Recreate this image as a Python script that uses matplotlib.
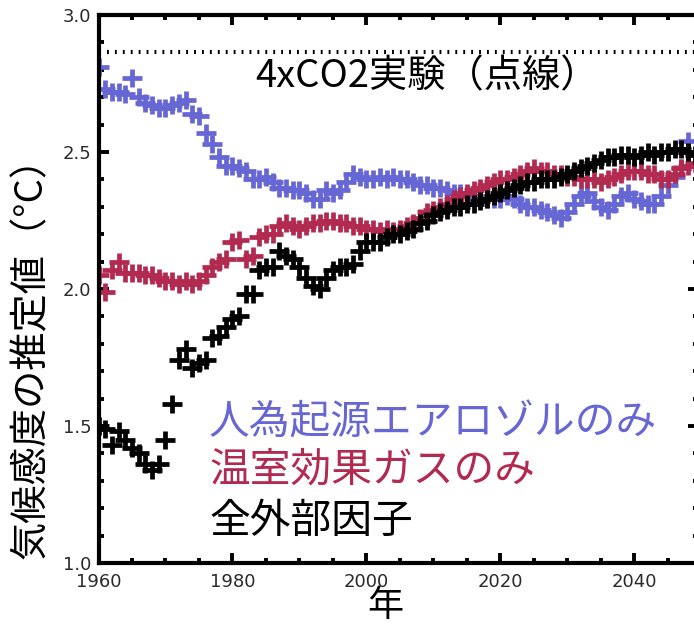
import numpy as np
import matplotlib
matplotlib.use("Agg")
import matplotlib.pyplot as plt
from matplotlib.ticker import MultipleLocator

plt.rcParams['font.family'] = ['DejaVu Sans']
jp = ['Noto Sans CJK JP', 'DejaVu Sans']

# 人為起源エアロゾルのみ (1960-2048)
aerosol_years = np.arange(1960, 2049)
aerosol = [2.81, 2.73, 2.72, 2.72, 2.71, 2.77, 2.70, 2.68, 2.67, 2.66,
           2.66, 2.67, 2.68, 2.69, 2.64, 2.63, 2.57, 2.53, 2.48, 2.45,
           2.45, 2.44, 2.43, 2.40, 2.40, 2.41, 2.39, 2.37, 2.37, 2.36,
           2.36, 2.35, 2.33, 2.33, 2.36, 2.35, 2.36, 2.39, 2.42, 2.41,
           2.40, 2.40, 2.41, 2.40, 2.41, 2.40, 2.40, 2.39, 2.38, 2.38,
           2.37, 2.37, 2.36, 2.35, 2.35, 2.34, 2.34, 2.33, 2.33, 2.33,
           2.33, 2.34, 2.33, 2.31, 2.30, 2.30, 2.29, 2.28, 2.27, 2.26,
           2.28, 2.31, 2.34, 2.35, 2.32, 2.30, 2.29, 2.31, 2.34, 2.35,
           2.33, 2.32, 2.31, 2.31, 2.34, 2.38, 2.41, 2.44, 2.54]

# 温室効果ガスのみ (1960-2049)
ghg_years = np.arange(1960, 2050)
ghg = [2.05, 1.99, 2.07, 2.10, 2.06, 2.06, 2.06, 2.05, 2.05, 2.04,
       2.03, 2.03, 2.02, 2.03, 2.02, 2.03, 2.05, 2.08, 2.10, 2.11,
       2.17, 2.18, 2.11, 2.12, 2.19, 2.20, 2.20, 2.23, 2.24, 2.23,
       2.22, 2.23, 2.24, 2.24, 2.25, 2.25, 2.24, 2.24, 2.23, 2.23,
       2.22, 2.22, 2.21, 2.22, 2.21, 2.22, 2.23, 2.24, 2.26, 2.28,
       2.29, 2.30, 2.31, 2.33, 2.34, 2.35, 2.36, 2.37, 2.38, 2.39,
       2.40, 2.40, 2.41, 2.42, 2.43, 2.44, 2.43, 2.43, 2.42, 2.42,
       2.41, 2.41, 2.40, 2.40, 2.40, 2.39, 2.40, 2.41, 2.42, 2.43,
       2.43, 2.43, 2.42, 2.42, 2.40, 2.40, 2.42, 2.44, 2.45, 2.46]

# 全外部因子 (1960-2049)
all_years = np.arange(1960, 2050)
all_forcing = [1.50, 1.49, 1.43, 1.48, 1.45, 1.42, 1.40, 1.36, 1.34, 1.36,
               1.45, 1.58, 1.74, 1.78, 1.71, 1.73, 1.74, 1.82, 1.83, 1.86,
               1.89, 1.90, 1.98, 1.98, 2.07, 2.08, 2.08, 2.14, 2.12, 2.11,
               2.08, 2.04, 2.01, 2.00, 2.04, 2.07, 2.08, 2.08, 2.09, 2.14,
               2.17, 2.17, 2.17, 2.19, 2.20, 2.20, 2.21, 2.22, 2.24, 2.25,
               2.27, 2.28, 2.29, 2.30, 2.30, 2.31, 2.31, 2.32, 2.33, 2.34,
               2.35, 2.36, 2.37, 2.38, 2.39, 2.39, 2.40, 2.40, 2.40, 2.41,
               2.42, 2.43, 2.44, 2.45, 2.46, 2.47, 2.48, 2.48, 2.49, 2.49,
               2.48, 2.49, 2.50, 2.49, 2.50, 2.50, 2.51, 2.51, 2.50, 2.49]

co2x4 = 2.865

blue = '#6666d4'
red = '#b22a50'
black = '#000000'

fig = plt.figure(figsize=(6.94, 6.31), dpi=100)
ax = fig.add_axes([98.5 / 694, 68 / 631, (698 - 98.5) / 694, (563 - 15) / 631])

for yrs, vals, col in [(aerosol_years, aerosol, blue),
                       (ghg_years, ghg, red),
                       (all_years, all_forcing, black)]:
    ax.plot(yrs, vals, ls='none', marker='_', ms=14.5, mew=3.4, color=col)
    ax.plot(yrs, vals, ls='none', marker='|', ms=12.5, mew=3.4, color=col)

ax.plot([1961.2, 2049.5], [co2x4, co2x4], color='black', lw=3,
        ls=(0, (0.45, 1.45)), dash_capstyle='butt')

ax.text(2009, 2.775, '4xCO2実験（点線）', family=jp, fontsize=27.5,
        ha='center', va='center', color='black')

ax.text(1976.5, 1.51, '人為起源エアロゾルのみ', family=jp, fontsize=29.3,
        ha='left', va='center', color=blue)
ax.text(1976.5, 1.34, '温室効果ガスのみ', family=jp, fontsize=29.3,
        ha='left', va='center', color=red)
ax.text(1976.5, 1.15, '全外部因子', family=jp, fontsize=29.3,
        ha='left', va='center', color='black')

ax.set_xlim(1960, 2049.5)
ax.set_ylim(1.0, 3.0)
ax.xaxis.set_major_locator(MultipleLocator(20))
ax.xaxis.set_minor_locator(MultipleLocator(5))
ax.yaxis.set_major_locator(MultipleLocator(0.5))
ax.yaxis.set_minor_locator(MultipleLocator(0.1))
ax.yaxis.set_major_formatter(plt.FormatStrFormatter('%.1f'))

for s in ax.spines.values():
    s.set_linewidth(3)
ax.tick_params(which='both', direction='in', top=True, right=True,
               width=2.8, colors='black', labelcolor='#2a2a2a', labelsize=13)
ax.tick_params(which='major', length=7)
ax.tick_params(which='minor', length=3.5)
ax.tick_params(axis='x', pad=7)
ax.tick_params(axis='y', pad=5)

fig.text(31 / 694, 1 - 348 / 631, '気候感度の推定値（°C）', family=jp,
         fontsize=27.5, rotation=90, ha='center', va='center')
fig.text(385 / 694, 1 - 606 / 631, '年', family=jp, fontsize=26,
         ha='center', va='center')

fig.savefig('out.png', dpi=100)
